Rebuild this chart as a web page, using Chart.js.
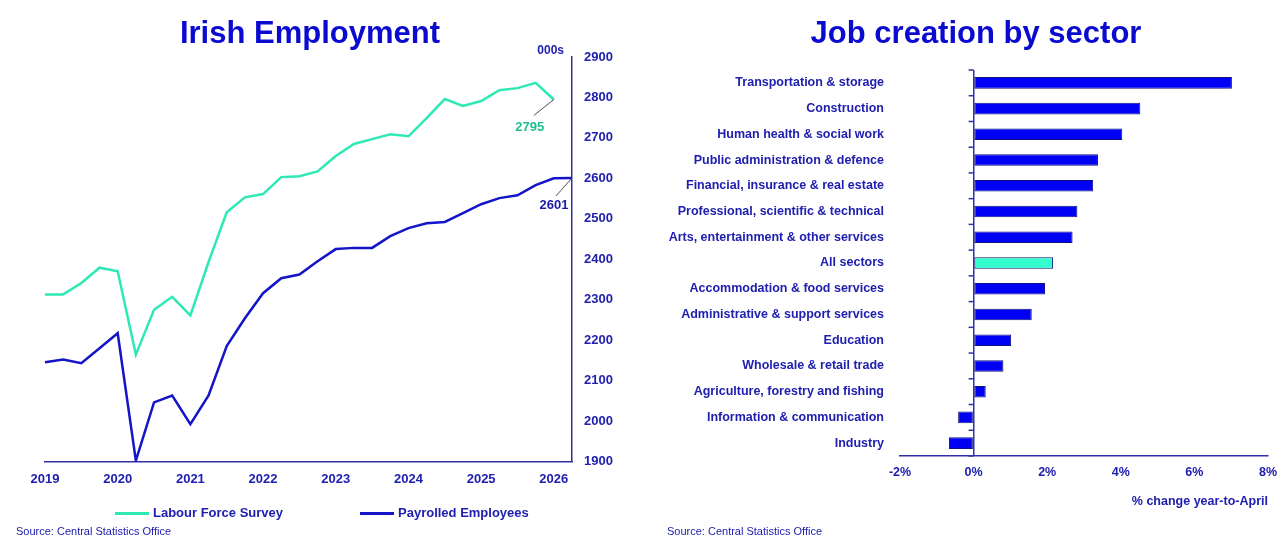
<!DOCTYPE html>
<html>
<head>
<meta charset="utf-8">
<title>Irish Employment / Job creation by sector</title>
<script src="https://cdn.jsdelivr.net/npm/chart.js@4.4.1/dist/chart.umd.min.js"></script>
<style>
    html, body { margin: 0; padding: 0; background: #fff; overflow: hidden; }
    body { width: 1282px; height: 536px; position: relative; font-family: "Liberation Sans", Arial, sans-serif; }
    .panel { position: absolute; top: 0; height: 536px; }
    #left { left: 0; width: 640px; }
    #right { left: 640px; width: 646px; }
    .chart-title { position: absolute; top: 15px; width: 400px; text-align: center; line-height: 36px; font: bold 31px "Liberation Sans", Arial, sans-serif; color: #0a0ad0; white-space: nowrap; }
    .legend-item { position: absolute; top: 505px; line-height: 16px; font: bold 13px "Liberation Sans", Arial, sans-serif; color: #2020b0; white-space: nowrap; }
    .legend-item .swatch { display: inline-block; width: 34px; height: 3px; vertical-align: middle; margin-right: 4px; }
    .source { position: absolute; top: 525px; line-height: 13px; font: 11px "Liberation Sans", Arial, sans-serif; color: #2020b0; white-space: nowrap; }
</style>
</head>
<body>
<div class="panel" id="left"><canvas id="employmentChart"></canvas></div>
<div class="panel" id="right"><canvas id="sectorChart"></canvas></div>

<div class="chart-title" style="left:110px">Irish Employment</div>
<div class="chart-title" style="left:776px">Job creation by sector</div>

<div class="legend-item" style="left:115px"><span class="swatch" style="background:#2ee8b6"></span>Labour Force Survey</div>
<div class="legend-item" style="left:360px"><span class="swatch" style="background:#1414c8"></span>Payrolled Employees</div>
<div class="source" style="left:16px">Source: Central Statistics Office</div>
<div class="source" style="left:667px">Source: Central Statistics Office</div>

<script>
// Employment data (000s), quarterly
const quarters = [
    '2019 Q1', '2019 Q2', '2019 Q3', '2019 Q4',
    '2020 Q1', '2020 Q2', '2020 Q3', '2020 Q4',
    '2021 Q1', '2021 Q2', '2021 Q3', '2021 Q4',
    '2022 Q1', '2022 Q2', '2022 Q3', '2022 Q4',
    '2023 Q1', '2023 Q2', '2023 Q3', '2023 Q4',
    '2024 Q1', '2024 Q2', '2024 Q3', '2024 Q4',
    '2025 Q1', '2025 Q2', '2025 Q3', '2025 Q4',
    '2026 Q1', '2026 Q2'
];
const labourForceSurvey = [2313, 2313, 2341, 2379, 2370, 2164, 2275, 2307, 2261, 2393,
    2516, 2553, 2561, 2603, 2605, 2617, 2655, 2685, 2697, 2709,
    2704, 2749, 2796, 2779, 2791, 2818, 2823, 2836, 2795, null];
const payrolledEmployees = [2145, 2152, 2143, 2180, 2217, 1902, 2046, 2063, 1992, 2063,
    2185, 2254, 2316, 2353, 2362, 2395, 2425, 2428, 2428, 2457,
    2477, 2489, 2492, 2514, 2536, 2551, 2558, 2583, 2600, 2601];
const employmentTicks = [1900, 2000, 2100, 2200, 2300, 2400, 2500, 2600, 2700, 2800, 2900];

// Job creation by sector (% change year-to-April)
const sectors = [
    'Transportation & storage',
    'Construction',
    'Human health & social work',
    'Public administration & defence',
    'Financial, insurance & real estate',
    'Professional, scientific & technical',
    'Arts, entertainment & other services',
    'All sectors',
    'Accommodation & food services',
    'Administrative & support services',
    'Education',
    'Wholesale & retail trade',
    'Agriculture, forestry and fishing',
    'Information & communication',
    'Industry'
];
const sectorGrowth = [7.02, 4.53, 4.04, 3.38, 3.25, 2.82, 2.69, 2.16, 1.94, 1.58, 1.02, 0.81, 0.33, -0.42, -0.67];
const growthTicks = [-2, 0, 2, 4, 6, 8];

// Colours
const textColor = '#2020b0';
const axisColor = '#3030a8';
const tealLine = '#2ee8b6';
const blueLine = '#1414c8';
const barBlue = '#0000f5';
const barTeal = '#33ffcc';

Chart.defaults.font.family = '"Liberation Sans", Arial, sans-serif';
Chart.defaults.color = textColor;
Chart.defaults.animation = false;

// Leader lines + value labels on the last point of each line, plus "000s" unit
const endLabels = {
    id: 'endLabels',
    afterDatasetsDraw(chart, args, opts) {
        const { ctx, chartArea } = chart;
        ctx.save();
        chart.data.datasets.forEach((ds, i) => {
            const style = opts.styles[i];
            let last = ds.data.length - 1;
            while (last > 0 && ds.data[last] == null) last--;
            const pt = chart.getDatasetMeta(i).data[last];
            ctx.strokeStyle = '#505060';
            ctx.lineWidth = 1;
            ctx.beginPath();
            ctx.moveTo(pt.x, pt.y);
            ctx.lineTo(pt.x + style.lx, pt.y + style.ly);
            ctx.stroke();
            ctx.fillStyle = style.color;
            ctx.font = 'bold 13px "Liberation Sans", Arial, sans-serif';
            ctx.textAlign = 'center';
            ctx.textBaseline = 'middle';
            ctx.fillText(String(ds.data[last]), pt.x + style.tx, pt.y + style.ty);
        });
        ctx.fillStyle = textColor;
        ctx.font = 'bold 12px "Liberation Sans", Arial, sans-serif';
        ctx.textAlign = 'right';
        ctx.textBaseline = 'middle';
        ctx.fillText(opts.unit, chartArea.right - 8, chartArea.top - 6);
        ctx.restore();
    }
};

// Small tick marks on the zero line between sectors
const sectorTicks = {
    id: 'sectorTicks',
    afterDatasetsDraw(chart) {
        const { ctx, scales: { x, y } } = chart;
        const x0 = x.getPixelForValue(0);
        ctx.save();
        ctx.strokeStyle = axisColor;
        ctx.lineWidth = 1.5;
        for (let i = 0; i <= sectors.length; i++) {
            const py = y.getPixelForValue(i - 0.5);
            ctx.beginPath();
            ctx.moveTo(x0 - 5, py);
            ctx.lineTo(x0, py);
            ctx.stroke();
        }
        ctx.restore();
    }
};

new Chart(document.getElementById('employmentChart'), {
    type: 'line',
    data: {
        labels: quarters,
        datasets: [{
            label: 'Labour Force Survey',
            data: labourForceSurvey,
            borderColor: tealLine,
            borderWidth: 2.5,
            pointRadius: 0,
            tension: 0,
        }, {
            label: 'Payrolled Employees',
            data: payrolledEmployees,
            borderColor: blueLine,
            borderWidth: 2.5,
            pointRadius: 0,
            tension: 0,
        }],
    },
    options: {
        responsive: true,
        maintainAspectRatio: false,
        layout: { padding: { left: 45, right: 18, top: 57, bottom: 39 } },
        plugins: {
            legend: { display: false },
            tooltip: { enabled: false },
            endLabels: {
                unit: '000s',
                styles: [
                    { lx: -20, ly: 16, tx: -24, ty: 28, color: '#1fbf92' },
                    { lx: -16, ly: 18, tx: -18, ty: 28, color: '#1a1aa8' },
                ],
            },
        },
        scales: {
            x: {
                grid: { display: false, drawTicks: false },
                border: { display: true, color: axisColor, width: 1.5 },
                ticks: {
                    autoSkip: false,
                    maxRotation: 0,
                    padding: 10,
                    color: textColor,
                    font: { size: 13, weight: 'bold' },
                    callback: function (value) {
                        const label = this.getLabelForValue(value);
                        return label.endsWith('Q1') ? label.slice(0, 4) : '';
                    },
                },
            },
            y: {
                position: 'right',
                min: employmentTicks[0],
                max: employmentTicks[employmentTicks.length - 1],
                afterBuildTicks: scale => { scale.ticks = employmentTicks.map(v => ({ value: v })); },
                afterFit: scale => { scale.width = 50; },
                grid: { display: false, drawTicks: false },
                border: { display: true, color: axisColor, width: 1.5 },
                ticks: {
                    padding: 12,
                    color: textColor,
                    font: { size: 13, weight: 'bold' },
                    callback: v => String(v),
                },
            },
        },
    },
    plugins: [endLabels],
});

new Chart(document.getElementById('sectorChart'), {
    type: 'bar',
    data: {
        labels: sectors,
        datasets: [{
            label: '% change year-to-April',
            data: sectorGrowth,
            backgroundColor: sectors.map(s => s === 'All sectors' ? barTeal : barBlue),
            borderColor: '#101080',
            borderWidth: 1,
            borderSkipped: false,
            barPercentage: 0.45,
            categoryPercentage: 1,
        }],
    },
    options: {
        indexAxis: 'y',
        responsive: true,
        maintainAspectRatio: false,
        layout: { padding: { left: 20, right: 10, top: 70, bottom: 17 } },
        plugins: {
            legend: { display: false },
            tooltip: { enabled: false },
        },
        scales: {
            x: {
                min: growthTicks[0],
                max: growthTicks[growthTicks.length - 1],
                afterBuildTicks: scale => { scale.ticks = growthTicks.map(v => ({ value: v })); },
                grid: {
                    drawTicks: false,
                    color: ctx => ctx.tick && ctx.tick.value === 0 ? axisColor : 'rgba(0,0,0,0)',
                    lineWidth: 1.5,
                },
                border: { display: true, color: axisColor, width: 1.5 },
                ticks: {
                    padding: 9,
                    color: textColor,
                    font: { size: 12.5, weight: 'bold' },
                    callback: v => v + '%',
                },
                title: {
                    display: true,
                    text: '% change year-to-April',
                    align: 'end',
                    color: textColor,
                    font: { size: 12.5, weight: 'bold' },
                    padding: { top: 5.5, bottom: 9.5 },
                },
            },
            y: {
                afterFit: scale => { scale.width = 240; },
                grid: { display: false, drawTicks: false },
                border: { display: false },
                ticks: {
                    padding: 16,
                    autoSkip: false,
                    color: textColor,
                    font: { size: 12.5, weight: 'bold' },
                },
            },
        },
    },
    plugins: [sectorTicks],
});
</script>
</body>
</html>
